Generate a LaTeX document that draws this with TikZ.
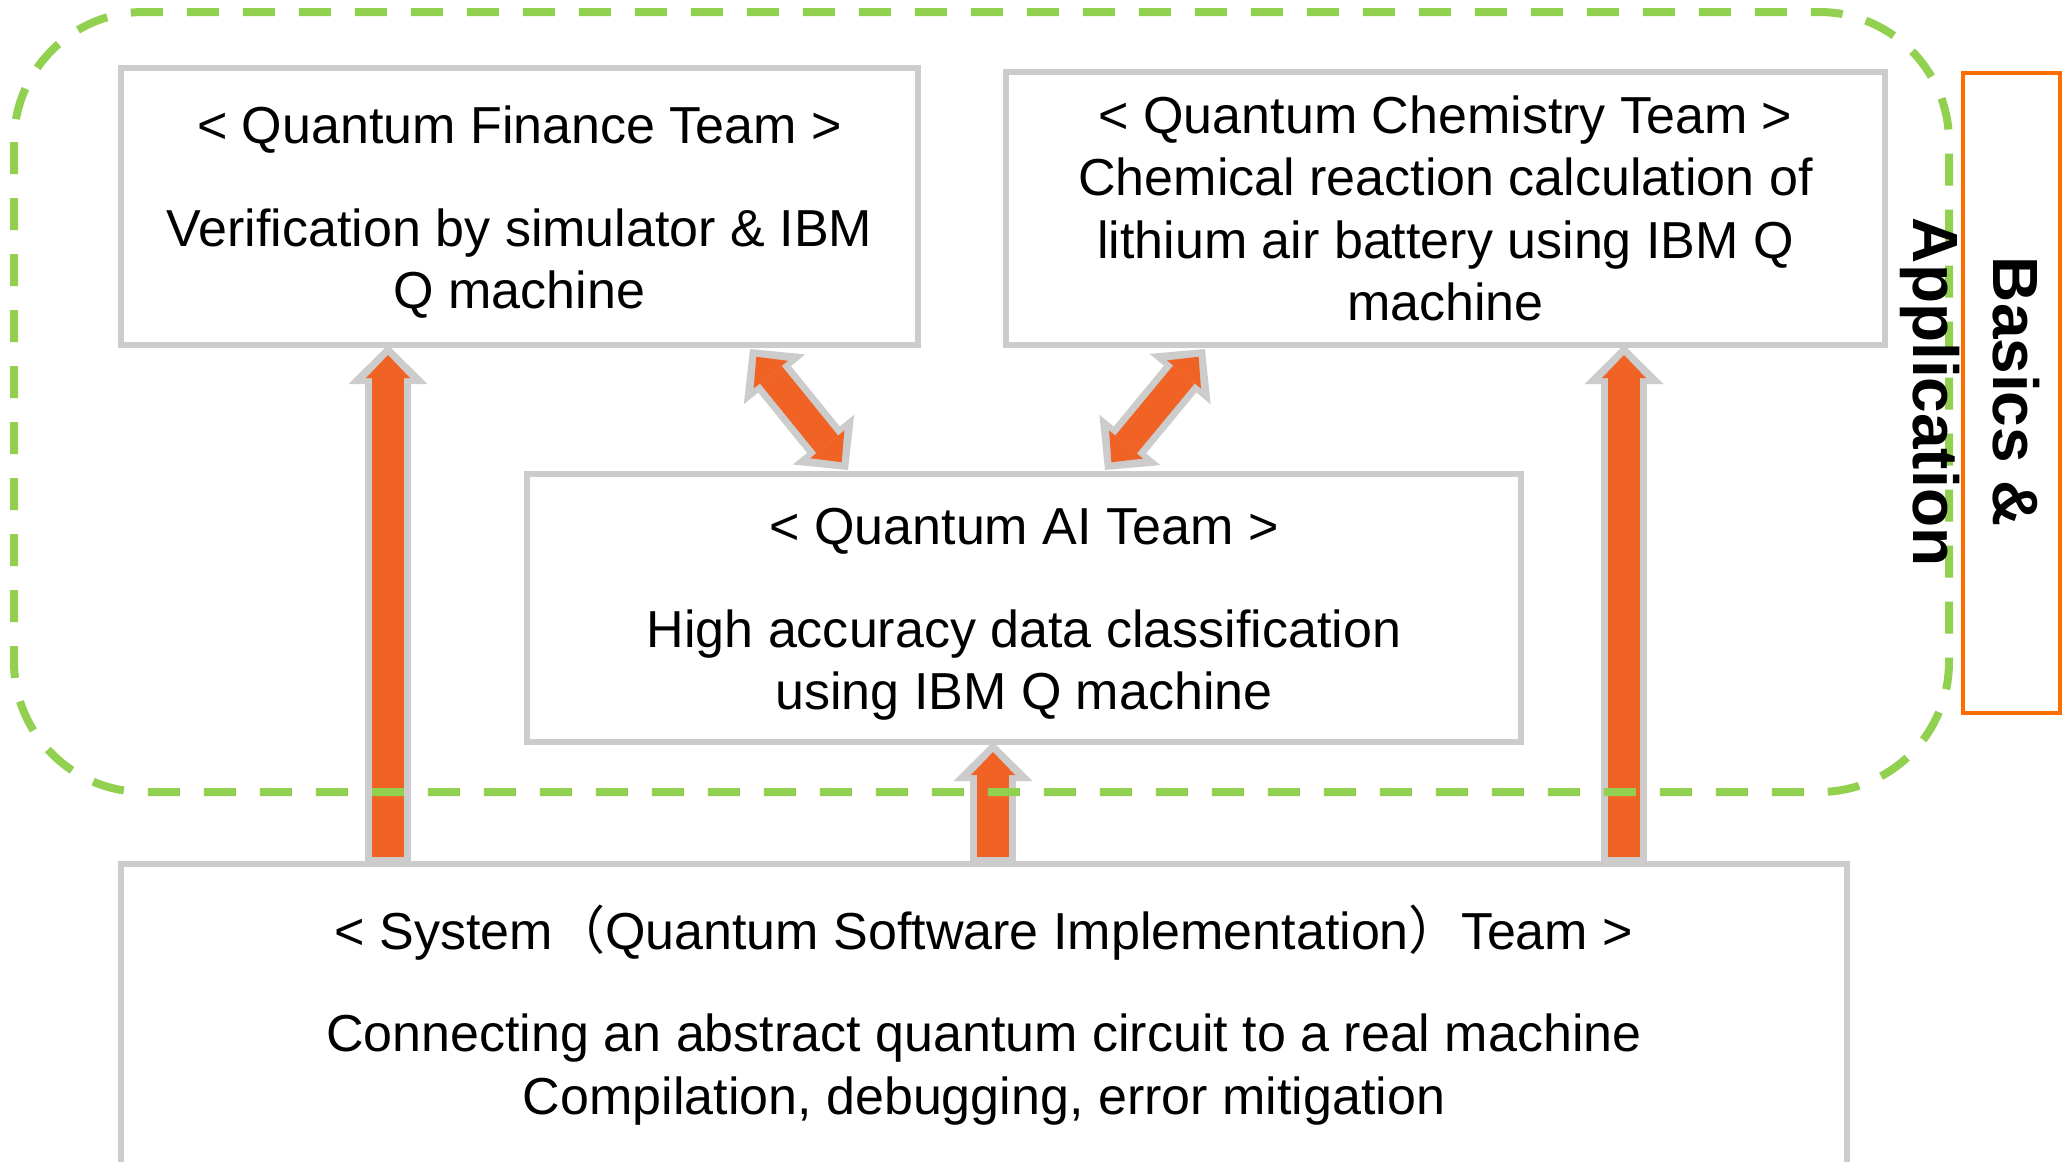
\documentclass[tikz,border=0pt]{standalone}
\usepackage{fontspec}
\setmainfont{Liberation Sans}
\newfontfamily\cjkfont{Noto Sans CJK SC}
\usetikzlibrary{arrows.meta}
\definecolor{rimgray}{RGB}{204,204,204}
\definecolor{arroworange}{RGB}{241,99,36}
\definecolor{labelorange}{RGB}{255,108,0}
\definecolor{fieldgreen}{RGB}{146,208,80}
\tikzset{
  teambox/.style={draw=rimgray, line width=0.6mm, fill=white, outer sep=0pt, inner sep=0pt,
    align=center, font=\fontsize{14.8}{17.8}\selectfont},
  rimhead/.tip={Triangle[length=3.9mm, width=7.9mm, line width=0pt]},
  corehead/.tip={Triangle[length=2.3mm, width=4.4mm, line width=0pt]},
  rimarrow/.style={draw=rimgray, line width=4.6mm, -rimhead},
  corearrow/.style={draw=arroworange, line width=3.2mm, shorten >=1mm, shorten <=0.7mm, -corehead},
  rimtwin/.style={draw=rimgray, line width=4.2mm, rimhead-rimhead},
  coretwin/.style={draw=arroworange, line width=2.8mm, shorten >=1mm, shorten <=1mm, corehead-corehead},
  fieldrim/.style={draw=fieldgreen, line width=0.8mm, dash pattern=on 3.2mm off 2.4mm, rounded corners=13mm}
}
\newcommand{\toppad}[1]{\rule{0pt}{#1}}
\begin{document}
\begin{tikzpicture}[x=0.1mm, y=-0.1mm]
                \path [use as bounding box, fill=white] (0, 0) rectangle (2070, 1162);
                \clip (0, 0) rectangle (2070, 1162);
                \node [teambox, minimum width=79.7mm, minimum height=27.7mm] (fin) at (519.5, 206.5)
                    {\toppad{14pt}< Quantum Finance Team >\\[11.4pt]Verification by simulator \& IBM\\Q machine};
                \node [teambox, minimum width=87.9mm, minimum height=27.3mm] (chem) at (1445.5, 208.5)
                    {< Quantum Chemistry Team >\\Chemical reaction calculation of\\lithium air battery using IBM Q\\machine};
                \node [teambox, minimum width=99.4mm, minimum height=26.8mm] (ai) at (1024, 608)
                    {\toppad{14pt}< Quantum AI Team >\\[11.4pt]High accuracy data classification\\using IBM Q machine};
                \node [teambox, minimum width=172.6mm, minimum height=30.2mm] (sys) at (984, 1015)
                    {\toppad{12.6pt}< System{\cjkfont （}Quantum Software Implementation{\cjkfont ）}Team >\\[11.4pt]Connecting an abstract quantum circuit to a real machine\\Compilation, debugging, error mitigation};
                \coordinate (finfoot) at (388, 864);
                \coordinate (aifoot) at (993, 864);
                \coordinate (chemfoot) at (1624, 864);
                \coordinate (finleft) at (750, 349);
                \coordinate (aileft) at (848, 470);
                \coordinate (chemright) at (1205, 349);
                \coordinate (airight) at (1105, 470);
                \draw [rimarrow] (finfoot) -- (finfoot |- fin.south);
                \draw [corearrow] (finfoot) -- (finfoot |- fin.south);
                \draw [rimarrow] (aifoot) -- (aifoot |- ai.south);
                \draw [corearrow] (aifoot) -- (aifoot |- ai.south);
                \draw [rimarrow] (chemfoot) -- (chemfoot |- chem.south);
                \draw [corearrow] (chemfoot) -- (chemfoot |- chem.south);
                \draw [rimtwin] (finleft) -- (aileft);
                \draw [coretwin] (finleft) -- (aileft);
                \draw [rimtwin] (chemright) -- (airight);
                \draw [coretwin] (chemright) -- (airight);
                \draw [fieldrim] (14, 12) rectangle (1949, 792);
                \node [draw=labelorange, line width=0.4mm, minimum width=9.7mm, minimum height=64mm,
                    inner sep=0pt, outer sep=0pt] (sidebox) at (2011.5, 393) {};
                \node [rotate=-90, align=center, font=\bfseries\fontsize{18.2}{22.5}\selectfont]
                    (sidelabel) at (1970, 392) {Basics \&\\Application};
            \end{tikzpicture}
\end{document}
